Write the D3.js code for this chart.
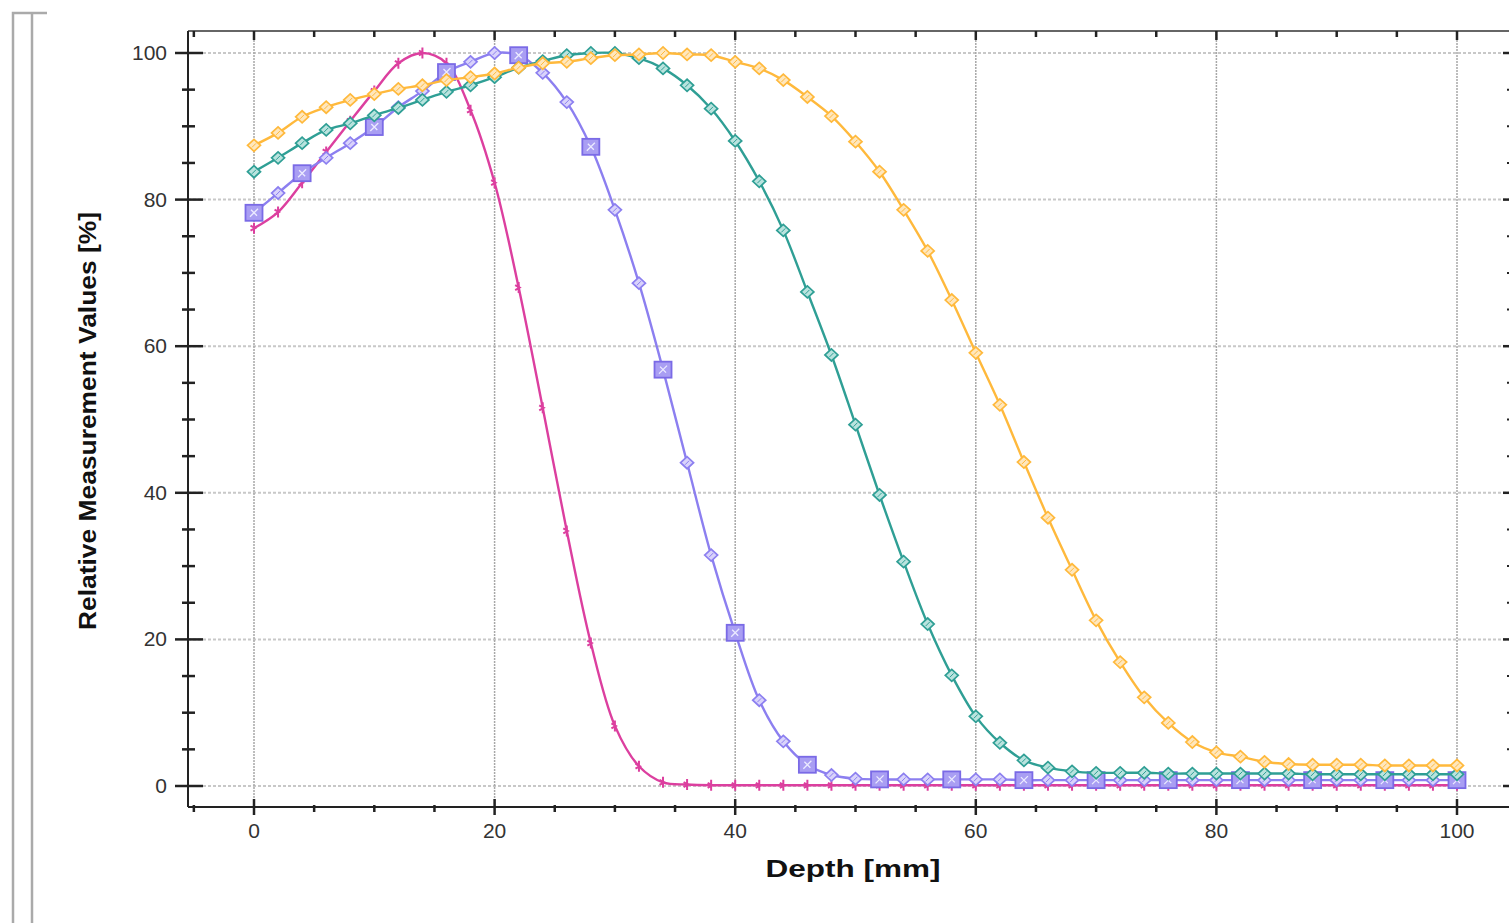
<!DOCTYPE html>
<html><head><meta charset="utf-8">
<script src="https://cdn.jsdelivr.net/npm/d3@7"></script>
<style>html,body{margin:0;padding:0;background:#fff;overflow:hidden}svg{display:block}</style>
</head><body>
<svg id="c" width="1509" height="923"></svg>
<script>
const depths = [0,2,4,6,8,10,12,14,16,18,20,22,24,26,28,30,32,34,36,38,40,42,44,46,48,50,52,54,56,58,60,62,64,66,68,70,72,74,76,78,80,82,84,86,88,90,92,94,96,98,100];
const magentaValues = [76.1,78.3,82.3,86.5,90.7,94.8,98.6,100,98.6,92.2,82.3,68.0,51.6,34.8,19.5,8.2,2.7,0.5,0.2,0.1,0.1,0.1,0.1,0.1,0.1,0.1,0.1,0.1,0.1,0.1,0.1,0.1,0.1,0.1,0.1,0.1,0.1,0.1,0.1,0.1,0.1,0.1,0.1,0.1,0.1,0.1,0.1,0.1,0.1,0.1,0.1];
const purpleValues = [78.2,80.9,83.6,85.7,87.7,89.9,92.6,94.8,97.4,98.8,100,99.7,97.3,93.3,87.2,78.6,68.6,56.8,44.1,31.5,20.9,11.7,6.1,2.9,1.5,1.0,0.9,0.9,0.9,0.9,0.9,0.9,0.8,0.8,0.8,0.8,0.8,0.8,0.8,0.8,0.8,0.8,0.8,0.8,0.8,0.8,0.8,0.8,0.8,0.8,0.8];
const tealValues = [83.8,85.7,87.7,89.5,90.4,91.5,92.5,93.6,94.7,95.6,96.7,98.0,98.9,99.7,100,100,99.3,97.9,95.6,92.4,88.0,82.5,75.8,67.4,58.8,49.3,39.7,30.6,22.1,15.1,9.5,5.9,3.5,2.5,2.0,1.8,1.8,1.8,1.7,1.7,1.7,1.7,1.7,1.7,1.6,1.6,1.6,1.6,1.6,1.6,1.6];
const orangeValues = [87.4,89.1,91.3,92.6,93.6,94.4,95.1,95.6,96.3,96.7,97.2,98.0,98.6,98.8,99.3,99.7,99.8,100,99.8,99.7,98.8,97.9,96.3,94.0,91.4,87.9,83.8,78.6,73.0,66.3,59.1,52.0,44.2,36.6,29.5,22.6,16.9,12.1,8.6,6.0,4.6,4.0,3.3,3.0,2.9,2.9,2.9,2.8,2.8,2.8,2.8];
const purpleSquareDepths = [0,4,10,16,22,28,34,40,46,52,58,64,70,76,82,88,94,100];
const xTickLabels = [0,20,40,60,80,100];
const yTickLabels = [0,20,40,60,80,100];
const xLabel = "Depth [mm]";
const yLabel = "Relative Measurement Values [%]";

const svg = d3.select("#c");
const x = d3.scaleLinear().domain([0,100]).range([254,1457]);
const y = d3.scaleLinear().domain([0,100]).range([786,53]);
const L = 188, R = 1511, T = 31, B = 807;

svg.append("path").attr("d","M13,923 L13,13 L47,13 M32,13 L32,923")
  .attr("fill","none").attr("stroke","#aaa").attr("stroke-width",2.5);

const g = svg.append("g");
g.selectAll(".hg").data(yTickLabels).join("line")
  .attr("x1",L).attr("x2",R).attr("y1",d=>y(d)).attr("y2",d=>y(d))
  .attr("stroke","#c8c8c8").attr("stroke-width",2).attr("stroke-dasharray","3,2");
g.selectAll(".vg").data(xTickLabels).join("line")
  .attr("x1",d=>x(d)).attr("x2",d=>x(d)).attr("y1",T).attr("y2",B)
  .attr("stroke","#a8a8a8").attr("stroke-width",1.5).attr("stroke-dasharray","2,1");

svg.append("line").attr("x1",L).attr("x2",R).attr("y1",T).attr("y2",T).attr("stroke","#666").attr("stroke-width",2);
svg.append("line").attr("x1",L).attr("x2",R).attr("y1",B).attr("y2",B).attr("stroke","#222").attr("stroke-width",2);
svg.append("line").attr("x1",L).attr("x2",L).attr("y1",T).attr("y2",B).attr("stroke","#222").attr("stroke-width",2);
svg.append("line").attr("x1",R).attr("x2",R).attr("y1",T).attr("y2",B).attr("stroke","#222").attr("stroke-width",2);

const minorX = d3.range(-5,106,5).filter(v=>v%20!==0 && x(v)>L && x(v)<R);
const minorY = d3.range(0,101,5).filter(v=>v%20!==0);
const tk = svg.append("g").attr("stroke","#222");
tk.selectAll(".xM").data(xTickLabels).join("line").attr("x1",d=>x(d)).attr("x2",d=>x(d)).attr("y1",B-8).attr("y2",B+8).attr("stroke-width",2.5);
tk.selectAll(".xm").data(minorX).join("line").attr("x1",d=>x(d)).attr("x2",d=>x(d)).attr("y1",B-2).attr("y2",B+5).attr("stroke-width",2.5);
tk.selectAll(".xMt").data(xTickLabels).join("line").attr("x1",d=>x(d)).attr("x2",d=>x(d)).attr("y1",T).attr("y2",T+9).attr("stroke-width",2.5);
tk.selectAll(".xmt").data(minorX).join("line").attr("x1",d=>x(d)).attr("x2",d=>x(d)).attr("y1",T).attr("y2",T+6).attr("stroke-width",2.5);
tk.selectAll(".yM").data(yTickLabels).join("line").attr("x1",L-13).attr("x2",L+15).attr("y1",d=>y(d)).attr("y2",d=>y(d)).attr("stroke-width",2.5);
tk.selectAll(".ym").data(minorY).join("line").attr("x1",L-6).attr("x2",L+7).attr("y1",d=>y(d)).attr("y2",d=>y(d)).attr("stroke-width",2.5);
tk.selectAll(".yMr").data(yTickLabels).join("line").attr("x1",R-8).attr("x2",R).attr("y1",d=>y(d)).attr("y2",d=>y(d)).attr("stroke-width",2.5);
tk.selectAll(".ymr").data(minorY).join("line").attr("x1",R-4).attr("x2",R).attr("y1",d=>y(d)).attr("y2",d=>y(d)).attr("stroke-width",2);

const font = "'Liberation Sans', Arial, sans-serif";
svg.selectAll(".xl").data(xTickLabels).join("text")
  .attr("x",d=>x(d)).attr("y",838).attr("text-anchor","middle")
  .attr("font-family",font).attr("font-size",21).attr("fill","#333").text(d=>d);
svg.selectAll(".yl").data(yTickLabels).join("text")
  .attr("x",167).attr("y",d=>y(d)+7).attr("text-anchor","end")
  .attr("font-family",font).attr("font-size",21).attr("fill","#333").text(d=>d);

svg.append("text").attr("x",853).attr("y",877).attr("text-anchor","middle")
  .attr("font-family",font).attr("font-weight","bold").attr("font-size",24).attr("fill","#111")
  .attr("textLength",175).attr("lengthAdjust","spacingAndGlyphs").text(xLabel);
svg.append("text").attr("transform","translate(96,421) rotate(-90)").attr("text-anchor","middle")
  .attr("font-family",font).attr("font-weight","bold").attr("font-size",23).attr("fill","#111")
  .attr("textLength",418).attr("lengthAdjust","spacingAndGlyphs").text(yLabel);

const series = [
  {name:"magenta", vals:magentaValues, color:"#dc3f9f", fill:"#f3b6d9", marker:"tick"},
  {name:"purple", vals:purpleValues, color:"#8c7ff0", fill:"#d9d3fb", marker:"diamond"},
  {name:"teal", vals:tealValues, color:"#2f9f95", fill:"#b9e3de", marker:"diamond"},
  {name:"orange", vals:orangeValues, color:"#ffb93c", fill:"#ffe7bd", marker:"diamond"}
];
const line = d3.line().x(d=>x(d[0])).y(d=>y(d[1])).curve(d3.curveCatmullRom.alpha(0.5));
const plot = svg.append("g");
series.forEach(s => {
  const pts = depths.map((d,i)=>[d, s.vals[i]]);
  plot.append("path").datum(pts).attr("d",line).attr("fill","none")
    .attr("stroke",s.color).attr("stroke-width",2.4);
  const mg = plot.append("g");
  pts.forEach(p => {
    const cx = x(p[0]), cy = y(p[1]);
    if (s.marker === "diamond") {
      if (s.name === "purple" && purpleSquareDepths.includes(p[0])) return;
      mg.append("path").attr("d",`M${cx-6.5},${cy} L${cx},${cy-6} L${cx+6.5},${cy} L${cx},${cy+6} Z`)
        .attr("fill",s.fill).attr("stroke",s.color).attr("stroke-width",1.7);
      mg.append("path").attr("d",`M${cx-2},${cy+2} L${cx+2},${cy-2}`).attr("stroke",s.color).attr("stroke-width",1);
    } else {
      mg.append("path").attr("d",`M${cx},${cy-5.5} L${cx},${cy+5.5} M${cx-3.5},${cy-2.5} L${cx+1},${cy} L${cx-3.5},${cy+2.5}`)
        .attr("fill","none").attr("stroke",s.color).attr("stroke-width",2);
    }
  });
  if (s.name === "purple") {
    pts.filter(p=>purpleSquareDepths.includes(p[0])).forEach(p => {
      const cx = x(p[0]), cy = y(p[1]);
      mg.append("rect").attr("x",cx-8.5).attr("y",cy-8).attr("width",17).attr("height",16)
        .attr("fill","#a99ef3").attr("stroke","#7a6ae6").attr("stroke-width",1.8);
      mg.append("path").attr("d",`M${cx-4},${cy+4} L${cx+4},${cy-4} M${cx-3},${cy-3} L${cx+3},${cy+3}`)
        .attr("stroke","#ecebff").attr("stroke-width",1.3);
    });
  }
});
</script>
</body></html>
